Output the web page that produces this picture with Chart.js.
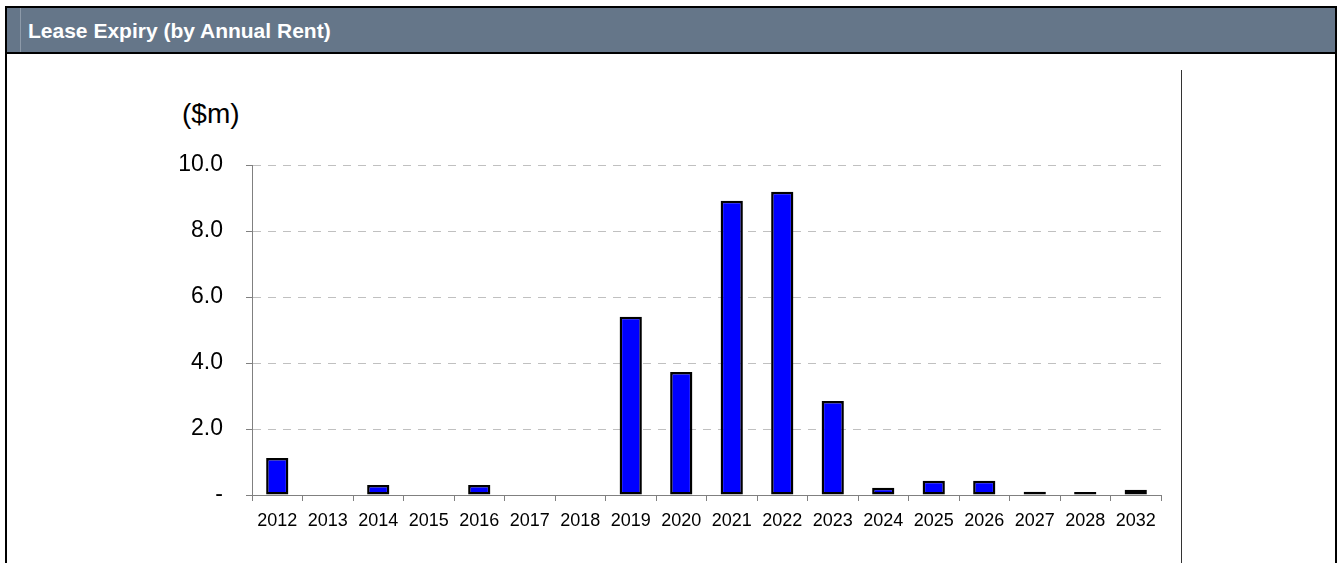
<!DOCTYPE html>
<html>
<head>
<meta charset="utf-8">
<script src="https://cdn.jsdelivr.net/npm/chart.js@4.4.1/dist/chart.umd.min.js"></script>
<style>
  body { margin: 0; background: #fff; width: 1337px; height: 563px; overflow: hidden; position: relative; font-family: Arial, 'Liberation Sans', sans-serif; }
  #box { position: absolute; left: 5px; top: 6px; width: 1328px; height: 600px; border: 2px solid #000; }
  #header { position: absolute; left: 0; top: 0; right: 0; height: 44px; background: #657689; border-bottom: 2px solid #000; }
  #accent { position: absolute; left: 13px; top: 0; width: 1px; height: 44px; background: #8d9aa9; }
  #title { position: absolute; left: 21px; top: 0; line-height: 46px; color: #fff; font-weight: bold; font-size: 21px; }
  #rightLine { position: absolute; left: 1181px; top: 70px; width: 1px; height: 500px; background: #333; }
  #unit { position: absolute; left: 182px; top: 98px; font-size: 28px; line-height: 32px; color: #000; }
  #chartWrap { position: absolute; left: 0; top: 0; width: 1337px; height: 563px; }
</style>
</head>
<body>
<div id="box">
  <div id="header"><div id="accent"></div><div id="title">Lease Expiry (by Annual Rent)</div></div>
</div>
<div id="rightLine"></div>
<div id="unit">($m)</div>
<div id="chartWrap"><canvas id="expiry-chart" width="1337" height="563"></canvas></div>
<script>
const years = ['2012', '2013', '2014', '2015', '2016', '2017', '2018', '2019', '2020', '2021', '2022', '2023', '2024', '2025', '2026', '2027', '2028', '2032'];
const rentExpiring = [1.12, 0, 0.30, 0, 0.30, 0, 0, 5.40, 3.73, 8.92, 9.19, 2.85, 0.22, 0.43, 0.43, 0.10, 0.09, 0.16];
const yTicks = [0, 2, 4, 6, 8, 10];

const ctx = document.getElementById('expiry-chart').getContext('2d');
let chart;

function tickLabel(v) {
    return v === 0 ? '-' : v.toFixed(1);
}

chart = new Chart(ctx, {
    type: 'bar',
    data: {
        labels: years,
        datasets: [{
            data: rentExpiring,
            backgroundColor: '#0000ff',
            borderColor: '#000000',
            borderWidth: 2.5,
            borderSkipped: false,
            barPercentage: 0.44,
            categoryPercentage: 1
        }]
    },
    options: {
        responsive: false,
        animation: false,
        layout: { padding: { left: 0, right: 176, top: 165, bottom: 0 } },
        plugins: { legend: { display: false }, tooltip: { enabled: false } },
        scales: {
            x: {
                offset: true,
                afterFit: s => { s.height = 68; },
                grid: { offset: true, drawOnChartArea: false, drawTicks: true, tickLength: 6, tickColor: '#808080', color: '#808080' },
                border: { color: '#808080', width: 1 },
                ticks: { color: '#000', padding: 9, maxRotation: 0, autoSkip: false, font: { family: 'Arial, "Liberation Sans"', size: 18 } }
            },
            y: {
                min: yTicks[0],
                max: yTicks[yTicks.length - 1],
                afterFit: s => { s.width = 252; },
                afterBuildTicks: s => { s.ticks = yTicks.map(v => ({ value: v })); },
                grid: {
                    color: c => (c.tick && c.tick.value === 0) ? 'rgba(0,0,0,0)' : '#c0c0c0',
                    tickColor: '#808080',
                    tickLength: 6,
                    tickBorderDash: []
                },
                border: { color: '#808080', width: 1, dash: [8, 7] },
                ticks: { color: '#000', padding: 23, callback: v => tickLabel(v), font: { family: 'Arial, "Liberation Sans"', size: 23 } }
            }
        }
    }
});
</script>
</body>
</html>
